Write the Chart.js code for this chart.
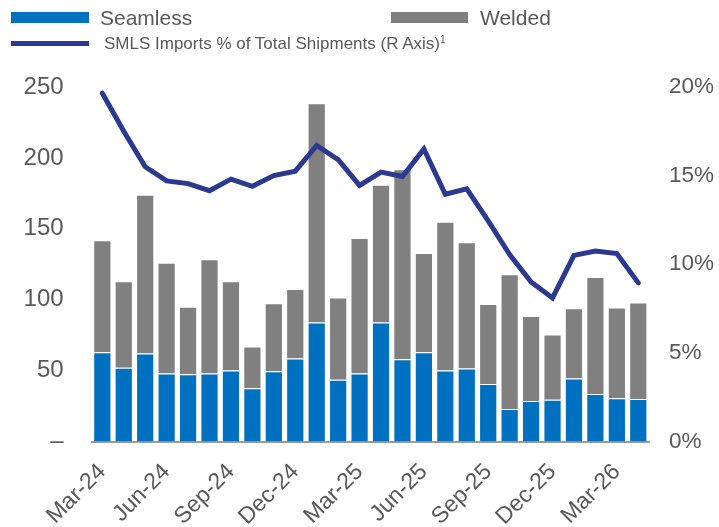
<!DOCTYPE html>
<html>
<head>
<meta charset="utf-8">
<script src="https://cdn.jsdelivr.net/npm/chart.js@4.4.1/dist/chart.umd.min.js"></script>
<style>
  html, body { margin: 0; padding: 0; background: #fff; }
  #wrap { position: relative; width: 719px; height: 527px; font-family: "Liberation Sans", Arial, sans-serif; color: #595959; }
  #c { position: absolute; left: 0; top: 0; }
  .sw { position: absolute; }
  .lt { position: absolute; white-space: nowrap; line-height: 1; }
  sup { font-size: 60%; vertical-align: 0.55em; line-height: 0; }
</style>
</head>
<body>
<div id="wrap">
  <canvas id="c" width="719" height="527"></canvas>
  <div class="sw" style="left:11px;top:12px;width:78px;height:11px;background:#0070C0"></div>
  <div class="lt" style="left:100px;top:7px;font-size:21px">Seamless</div>
  <div class="sw" style="left:391px;top:12px;width:77px;height:11px;background:#7F7F7F"></div>
  <div class="lt" style="left:480px;top:7px;font-size:21px">Welded</div>
  <div class="sw" style="left:11px;top:41px;width:78px;height:5px;background:#2B3990"></div>
  <div class="lt" style="left:104px;top:35px;font-size:17px">SMLS Imports % of Total Shipments (R Axis)<sup>1</sup></div>
</div>
<script>
const months = ["Mar-24","Apr-24","May-24","Jun-24","Jul-24","Aug-24","Sep-24","Oct-24","Nov-24","Dec-24","Jan-25","Feb-25","Mar-25","Apr-25","May-25","Jun-25","Jul-25","Aug-25","Sep-25","Oct-25","Nov-25","Dec-25","Jan-26","Feb-26","Mar-26","Apr-26"];
const seamless = [63,52,62,48,47.5,48,50,37.5,49.5,58.5,84,43.5,48,84,58,63,50,51.5,40.5,23,28.5,29.5,44.5,33.5,30.5,30];
const welded = [79,61,112,78,47.5,80.5,63,29.5,48,49,154.5,58,95.5,97,134,70,105,89,56.5,95,60,46,49.5,82.5,64,68];
const smlsPct = [19.65,17.5,15.5,14.7,14.55,14.15,14.8,14.4,15.0,15.25,16.7,15.9,14.45,15.2,14.95,16.5,13.95,14.25,12.45,10.55,9.0,8.1,10.5,10.75,10.6,8.95];
const leftTicks = [0,50,100,150,200,250];
const rightTicks = [0,5,10,15,20];

const fam = "'Liberation Sans', Arial, sans-serif";
const tickColor = '#595959';

new Chart(document.getElementById('c'), {
  data: {
    labels: months,
    datasets: [
      { type: 'line', label: 'SMLS Imports % of Total Shipments (R Axis)', data: smlsPct, yAxisID: 'y2',
        borderColor: '#2B3990', borderWidth: 5, pointRadius: 0, tension: 0, order: 0, borderCapStyle: 'round' },
      { type: 'bar', label: 'Seamless', data: seamless, yAxisID: 'y', stack: 's',
        backgroundColor: '#0070C0', borderColor: '#ffffff', borderWidth: 1, order: 1,
        barPercentage: 0.85, categoryPercentage: 1 },
      { type: 'bar', label: 'Welded', data: welded, yAxisID: 'y', stack: 's',
        backgroundColor: '#808080', borderColor: '#ffffff', borderWidth: 1, order: 1,
        barPercentage: 0.85, categoryPercentage: 1 }
    ]
  },
  options: {
    responsive: false,
    animation: false,
    layout: { padding: { top: 87, left: 0, right: 0, bottom: 0 } },
    plugins: { legend: { display: false }, tooltip: { enabled: false } },
    scales: {
      x: {
        stacked: true,
        grid: { display: false, drawTicks: false },
        border: { display: true, color: '#9a9a9a', width: 2 },
        ticks: {
          autoSkip: false, maxRotation: 45, minRotation: 45, padding: 17,
          color: tickColor, font: { family: fam, size: 23 },
          callback: function(v, i) { return i % 3 === 0 ? months[i] : ''; }
        },
        afterFit: function(s) { s.height = 85.5; }
      },
      y: {
        position: 'left', stacked: true, min: 0, max: 250,
        grid: { display: false, drawTicks: false },
        border: { display: false },
        afterBuildTicks: function(s) { s.ticks = leftTicks.map(v => ({ value: v })); },
        ticks: {
          padding: 28, color: tickColor, font: { family: fam, size: 24 },
          callback: function(v) { return v === 0 ? '\u2013' : String(v); }
        },
        afterFit: function(s) { s.width = 91.6; }
      },
      y2: {
        position: 'right', min: 0, max: 20,
        grid: { display: false, drawTicks: false },
        border: { display: false },
        afterBuildTicks: function(s) { s.ticks = rightTicks.map(v => ({ value: v })); },
        ticks: {
          padding: 20, color: tickColor, font: { family: fam, size: 22.5 },
          callback: function(v) { return v + '%'; }
        },
        afterFit: function(s) { s.width = 70; }
      }
    }
  }
});
</script>
</body>
</html>
